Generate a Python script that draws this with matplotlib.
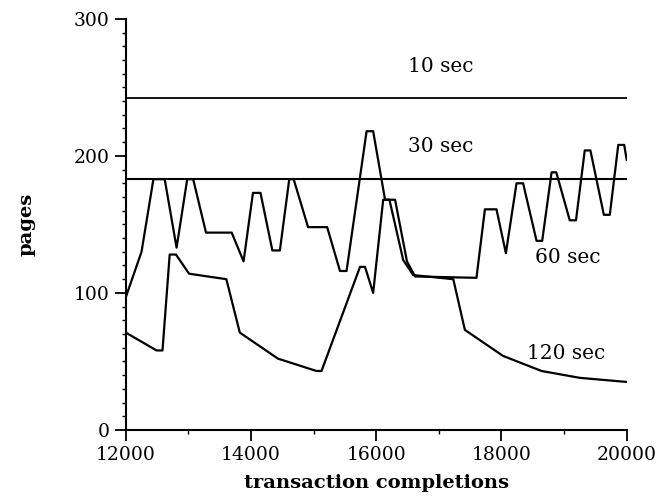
import matplotlib
matplotlib.use("Agg")
import matplotlib.pyplot as plt
from matplotlib.ticker import MultipleLocator

# data
x_10 = [12000, 20000]
y_10 = [242, 242]

x_30 = [12000, 20000]
y_30 = [183, 183]

x_60 = [12000, 12250, 12440, 12620, 12810, 12980, 13075, 13280, 13690, 13880,
        14030, 14150, 14340, 14460, 14610, 14680, 14910, 15215, 15420, 15525,
        15845, 15950, 16140, 16300, 16490, 16620, 17600, 17735, 17920, 18070,
        18240, 18345, 18560, 18650, 18800, 18875, 19090, 19190, 19330, 19420,
        19635, 19730, 19865, 19960, 20000]
y_60 = [97, 130, 183, 183, 133, 183, 183, 144, 144, 123,
        173, 173, 131, 131, 183, 183, 148, 148, 116, 116,
        218, 218, 168, 168, 123, 112, 111, 161, 161, 129,
        180, 180, 138, 138, 188, 188, 153, 153, 204, 204,
        157, 157, 208, 208, 197]

x_120 = [12000, 12490, 12585, 12700, 12800, 13010, 13605, 13820, 14430, 15045,
         15125, 15740, 15820, 15950, 16110, 16210, 16430, 16590, 17230, 17415,
         18025, 18640, 19250, 20000]
y_120 = [71, 58, 58, 128, 128, 114, 110, 71, 52, 43,
         43, 119, 119, 100, 168, 168, 124, 113, 110, 73,
         54, 43, 38, 35]

labels = ["10 sec", "30 sec", "60 sec", "120 sec"]
label_x = [17030, 17030, 19060, 19040]
label_y = [265, 207, 126, 56]

plt.rcParams['font.family'] = ['DejaVu Serif']

fig = plt.figure(figsize=(6.66, 4.97), dpi=100)
ax = fig.add_axes([0.189, 0.135, 0.752, 0.827])

ax.plot(x_10, y_10, color='black', lw=1.3)
ax.plot(x_30, y_30, color='black', lw=1.5)
ax.plot(x_60, y_60, color='black', lw=1.6)
ax.plot(x_120, y_120, color='black', lw=1.6)

for t, lx, ly in zip(labels, label_x, label_y):
    ax.text(lx, ly, t, ha='center', va='center', fontsize=14.5)

ax.set_xlim(12000, 20000)
ax.set_ylim(0, 300)
ax.xaxis.set_major_locator(MultipleLocator(2000))
ax.xaxis.set_minor_locator(MultipleLocator(1000))
ax.yaxis.set_major_locator(MultipleLocator(100))
ax.yaxis.set_minor_locator(MultipleLocator(10))

ax.spines['top'].set_visible(False)
ax.spines['right'].set_visible(False)
ax.spines['left'].set_linewidth(1.5)
ax.spines['bottom'].set_linewidth(1.5)
ax.tick_params(which='major', direction='out', length=8, width=1.3, labelsize=13.5)
ax.tick_params(which='minor', direction='out', length=3, width=1.0)

ax.set_xlabel('transaction completions', fontsize=14, fontweight='bold', labelpad=7)
ax.set_ylabel('pages', fontsize=14, fontweight='bold', labelpad=28)

plt.savefig('out.png', dpi=100)
